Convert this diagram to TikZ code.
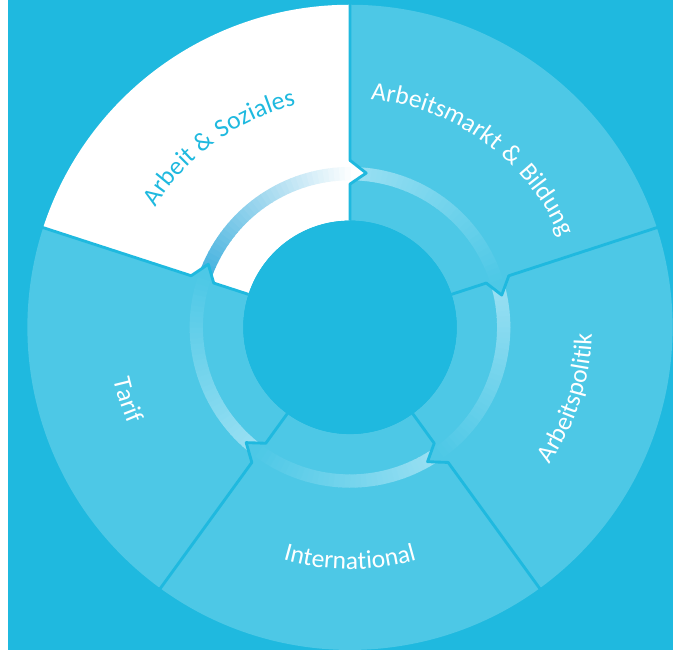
\documentclass[tikz,border=0pt]{standalone}
\usepackage{fontspec}
\setmainfont{Carlito}[LetterSpace=5]
\usetikzlibrary{decorations.text}
\definecolor{bg}{RGB}{31,185,223}
\definecolor{seg}{RGB}{77,200,230}
\definecolor{ringlight}{RGB}{155,224,243}
\definecolor{ringblue}{RGB}{64,176,222}
\newcommand{\lbl}{\fontsize{27}{31}\selectfont}
\newcommand{\segpath}[1]{(#1:112.5) -- (#1:151) -- ({#1-6}:163.5) -- (#1:176) -- (#1:340)
  arc[start angle=#1, end angle=#1-72, radius=340] -- ({#1-72}:176) -- ({#1-78}:163.5)
  -- ({#1-72}:151) -- ({#1-72}:112.5) arc[start angle=#1-72, end angle=#1, radius=112.5] -- cycle}

\begin{document}
\begin{tikzpicture}[x=1pt, y=1pt,
    sep/.style = {bg, line width=3, line join=round},
    label/.style = {decorate, decoration={text along path, text align=center, text color=#1}}]
  \fill[bg] (-360,-340) rectangle (340,345);
  \foreach \s/\fillc/\ringc in {162/white/ringblue, 90/seg/ringlight, 18/seg/ringlight,
      -54/seg/ringlight, -126/seg/ringlight}{
    \begin{scope}
      \fill[\fillc] \segpath{\s};
      \clip \segpath{\s};
      \foreach \i in {0,...,35}{
        \pgfmathsetmacro{\pct}{100-\i*100/36}
        \draw[\ringc!\pct!\fillc, line width=14] ({\s-2*\i}:162)
          arc[start angle=\s-2*\i, end angle=\s-2*\i-2.3, radius=162];
      }
    \end{scope}
  }
  \foreach \s in {162,90,18,-54,-126}
    \draw[sep] (\s:112.5) -- (\s:151) -- ({\s-6}:163.5) -- (\s:176) -- (\s:342);
  \fill[bg] (0,0) circle[radius=112.5];
  \path[label=bg, decoration={text={|\lbl|Arbeit {\&} Soziales}}]
    (172:241) arc[start angle=172, end angle=80, radius=241];
  \path[label=white, decoration={text={|\lbl|Arbeitsmarkt {\&} Bildung}}]
    (102:241) arc[start angle=102, end angle=6, radius=241];
  \path[label=white, decoration={text={|\lbl|Arbeitspolitik}}]
    (-66:255) arc[start angle=-66, end angle=30, radius=255];
  \path[label=white, decoration={text={|\lbl|International}}]
    (-138:255) arc[start angle=-138, end angle=-42, radius=255];
  \path[label=white, decoration={text={|\lbl|Tarif}}]
    (150:255) arc[start angle=150, end angle=246, radius=255];
\end{tikzpicture}
\end{document}
